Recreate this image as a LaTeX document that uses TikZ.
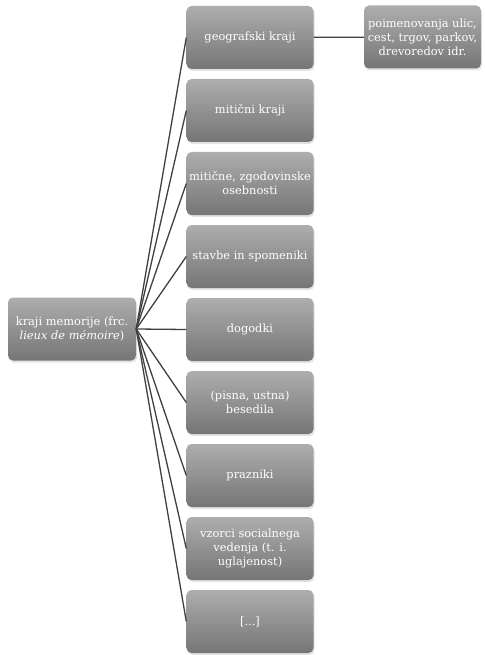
\documentclass[tikz,border=0pt]{standalone}
\usepackage{fontspec}
\setmainfont{DejaVu Serif}
\usepackage{xcolor}
\usepackage{tikz}
\usetikzlibrary{shadows}

\begin{document}
\begin{tikzpicture}[
  x=1pt,y=-1pt,
  box/.style={rounded corners=5pt,top color=black!32,bottom color=black!54,draw=none,
    drop shadow={shadow xshift=1pt,shadow yshift=-2pt,opacity=0.22},
    text=white,font=\fontsize{11.4}{14}\selectfont,align=center,
    minimum width=127pt,minimum height=63pt,inner sep=1pt},
  link/.style={draw=black!75,line width=1.3pt}
]
  \useasboundingbox (0,0) rectangle (484,655);

  \node[box,minimum width=128pt] (spomin) at (72,329) {kraji memorije (frc.\\\textit{lieux de mémoire})};

  \node[box] (geo)  at (250,37.5)  {geografski kraji};
  \node[box] (mit)  at (250,110.5) {mitični kraji};
  \node[box] (ose)  at (250,183.5) {mitične, zgodovinske\\osebnosti};
  \node[box] (stav) at (250,256.5) {stavbe in spomeniki};
  \node[box] (dog)  at (250,329.5) {dogodki};
  \node[box] (bes)  at (250,402.5) {(pisna, ustna)\\besedila};
  \node[box] (praz) at (250,475.5) {prazniki};
  \node[box] (vzor) at (250,548.5) {vzorci socialnega\\vedenja (t. i.\\uglajenost)};
  \node[box] (etc)  at (250,621.5) {[...]};

  \node[box,minimum width=117pt] (ulice) at (422.5,37) {poimenovanja ulic,\\cest, trgov, parkov,\\drevoredov idr.};

  \foreach \n in {geo,mit,ose,stav,dog,bes,praz,vzor,etc}
    \draw[link] (spomin.east) -- (\n.west);
  \draw[link] (geo) -- (ulice);
\end{tikzpicture}
\end{document}
